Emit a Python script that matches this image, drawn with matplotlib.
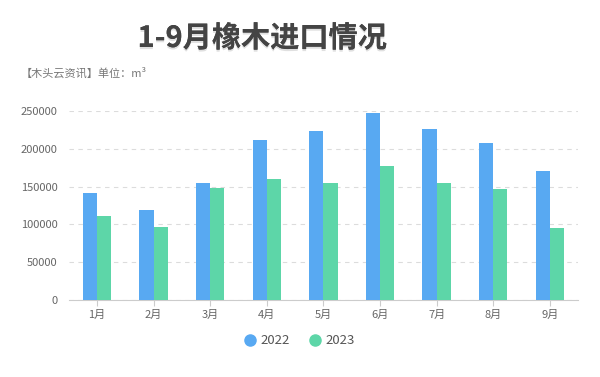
import matplotlib
matplotlib.use("Agg")
import matplotlib.pyplot as plt
import matplotlib.patheffects as pe
from matplotlib.lines import Line2D
import numpy as np

plt.rcParams['font.family'] = ['Noto Sans CJK SC', 'DejaVu Sans']

months = ['1月', '2月', '3月', '4月', '5月', '6月', '7月', '8月', '9月']
imports_2022 = [141500, 119000, 155000, 212000, 222800, 247000, 226300, 207800, 171000]
imports_2023 = [111500, 96200, 147700, 160000, 154700, 176700, 154700, 147200, 95700]
years = ['2022', '2023']
yticks = [0, 50000, 100000, 150000, 200000, 250000]

c22 = '#58a9f2'
c23 = '#5dd6a8'

fig = plt.figure(figsize=(6, 3.77), dpi=100)
ax = fig.add_axes([0.1145, 0.2034, 0.849, 0.503])

x = np.arange(len(months))
w = 0.25
ax.bar(x - w / 2, imports_2022, w, color=c22, zorder=3)
ax.bar(x + w / 2, imports_2023, w, color=c23, zorder=3)

ax.set_xlim(-0.5, len(months) - 0.5)
ax.set_ylim(0, 250000)
ax.set_yticks(yticks)
ax.set_yticklabels([str(v) for v in yticks])
ax.set_xticks(x)
ax.set_xticklabels(months)
ax.yaxis.grid(True, color='#dcdcdc', linestyle=(0, (4, 4)), linewidth=0.8, zorder=0)
ax.set_axisbelow(True)
for s in ['top', 'right', 'left']:
    ax.spines[s].set_visible(False)
ax.spines['bottom'].set_color('#cccccc')
ax.tick_params(axis='y', length=0, labelsize=8, labelcolor='#666666', pad=8)
ax.tick_params(axis='x', length=4, color='#cccccc', labelsize=8, labelcolor='#666666', pad=3)

# title with a soft shadow
fig.text(262 / 600, 1 - 38 / 377, '1-9月橡木进口情况', ha='center', va='center',
         fontsize=21, fontweight='bold', color='#444444',
         path_effects=[pe.withSimplePatchShadow(offset=(0, -1.5), shadow_rgbFace='#999999', alpha=0.3),
                       pe.Normal()])
fig.text(21 / 600, 1 - 73 / 377, '【木头云资讯】单位：m³', ha='left', va='center',
         fontsize=8, color='#777777')

handles = [Line2D([], [], marker='o', linestyle='', markersize=8, color=c) for c in (c22, c23)]
ax.legend(handles, years, loc='center', bbox_to_anchor=(0.5, 1 - 341 / 377),
          bbox_transform=fig.transFigure, ncol=2, frameon=False,
          handlelength=0.8, columnspacing=1.5, handletextpad=0.4,
          fontsize=9.5, labelcolor='#555555')

fig.savefig('out.png', dpi=100)
